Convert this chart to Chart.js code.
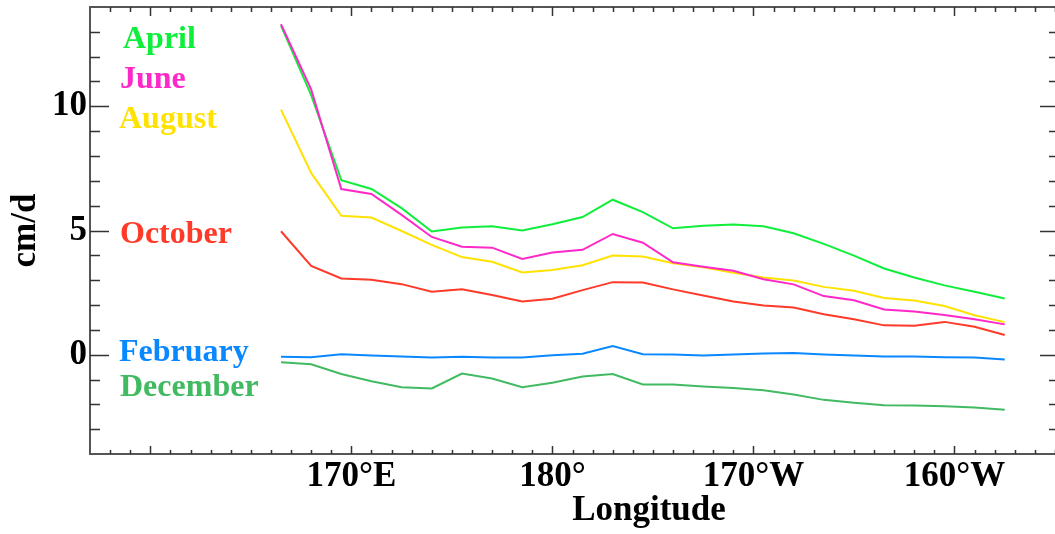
<!DOCTYPE html>
<html>
<head>
<meta charset="utf-8">
<script src="https://cdn.jsdelivr.net/npm/chart.js@4"></script>
<style>
  html,body{margin:0;padding:0;background:#fff;}
  #wrap{width:1055px;height:534px;}
</style>
</head>
<body>
<div id="wrap"><canvas id="chart" width="1055" height="534"></canvas></div>
<script>
// longitude in degrees east (190 = 170°W)
const lon = [166.5,168,169.5,171,172.5,174,175.5,177,178.5,180,181.5,183,184.5,
             186,187.5,189,190.5,192,193.5,195,196.5,198,199.5,201,202.5];

const april    = [13.25,10.45,7.03,6.67,5.90,4.96,5.12,5.17,5.00,5.25,5.54,6.24,5.74,
                  5.09,5.19,5.24,5.17,4.89,4.46,3.99,3.47,3.11,2.79,2.53,2.26];
const june     = [13.31,10.68,6.67,6.47,5.63,4.74,4.35,4.31,3.85,4.11,4.22,4.86,4.51,
                  3.72,3.54,3.38,3.04,2.83,2.36,2.19,1.82,1.74,1.60,1.43,1.22];
const august   = [9.87,7.32,5.59,5.52,4.98,4.42,3.93,3.74,3.31,3.41,3.60,3.99,3.95,
                  3.68,3.52,3.30,3.11,2.99,2.73,2.57,2.28,2.18,1.96,1.59,1.31];
const october  = [4.97,3.57,3.07,3.02,2.84,2.53,2.63,2.40,2.14,2.25,2.60,2.92,2.91,
                  2.63,2.38,2.14,1.98,1.90,1.63,1.43,1.18,1.16,1.32,1.12,0.79];
const february = [-0.08,-0.10,0.02,-0.03,-0.07,-0.11,-0.08,-0.11,-0.11,-0.02,0.04,0.35,0.02,
                  0.01,-0.03,0.01,0.05,0.07,0.01,-0.03,-0.07,-0.07,-0.10,-0.11,-0.19];
const december = [-0.31,-0.39,-0.78,-1.07,-1.31,-1.36,-0.76,-0.96,-1.31,-1.13,-0.88,-0.78,-1.20,
                  -1.20,-1.28,-1.34,-1.43,-1.60,-1.82,-1.94,-2.04,-2.05,-2.08,-2.13,-2.22];

const monthNames = ['April','June','August','October','February','December'];
const monthData  = [april, june, august, october, february, december];
const monthColors = ['#10ee3c','#ff28c8','#ffe200','#ff3a28','#0a88ff','#42ba62'];

const xTickVals = [170,180,190,200];
const xTickText = ['170°E','180°','170°W','160°W'];
const yTickVals = [0,5,10];

const SERIF = '"Liberation Serif","Times New Roman",serif';

// where the month names sit (pixels from the canvas corner)
const labelSpots = [[123,48],[120,88],[119,128],[120,243],[119,361],[120,396]];

const frame = {
  id:'frame',
  afterDraw(chart){
    const {ctx, chartArea:a, scales:{x,y}} = chart;
    ctx.save();
    // box: right edge falls off the canvas in the original, so only ticks show there
    ctx.strokeStyle = '#555';
    ctx.lineWidth = 2;
    ctx.beginPath();
    ctx.moveTo(a.right, a.top); ctx.lineTo(a.left, a.top);
    ctx.lineTo(a.left, a.bottom); ctx.lineTo(a.right, a.bottom);
    ctx.stroke();

    ctx.lineWidth = 1.5;
    ctx.strokeStyle = '#333';
    ctx.beginPath();
    for(let v=158; v<=205; v++){
      const px = Math.round(x.getPixelForValue(v))+0.5;
      const major = v%10===0;
      ctx.moveTo(px, a.bottom); ctx.lineTo(px, a.bottom-(major?8:4));
      ctx.moveTo(px, a.top); ctx.lineTo(px, a.top+(major?9:5));
    }
    for(let v=-3; v<=13; v++){
      const py = Math.round(y.getPixelForValue(v))+0.5;
      const major = v%5===0;
      ctx.moveTo(a.left, py); ctx.lineTo(a.left+(major?19:10), py);
      ctx.moveTo(a.right, py); ctx.lineTo(a.right-(major?15:6), py);
    }
    ctx.stroke();

    ctx.font = 'bold 32px '+SERIF;
    ctx.textBaseline = 'alphabetic';
    ctx.textAlign = 'left';
    monthNames.forEach((m,i)=>{
      ctx.fillStyle = monthColors[i];
      ctx.fillText(m, labelSpots[i][0], labelSpots[i][1]);
    });

    ctx.fillStyle = '#000';
    ctx.font = 'bold 35px '+SERIF;
    ctx.textAlign = 'center';
    ctx.fillText('Longitude', 649, 520);
    ctx.restore();
  }
};

new Chart(document.getElementById('chart'), {
  type:'line',
  data:{
    datasets: monthNames.map((m,i)=>({
      label:m,
      data: lon.map((lo,j)=>({x:lo, y:monthData[i][j]})),
      borderColor: monthColors[i],
      borderWidth: 2,
      pointRadius: 0,
      tension: 0,
      fill:false,
      order: m==='June' ? 0 : i+1
    }))
  },
  options:{
    responsive:false,
    animation:false,
    devicePixelRatio:1,
    layout:{ padding:{ top:7, right:-3, left:0, bottom:0 } },
    plugins:{ legend:{display:false}, tooltip:{enabled:false} },
    scales:{
      x:{
        type:'linear', min:157, max:205,
        grid:{ display:false, drawTicks:false },
        border:{ display:false },
        afterBuildTicks: s => { s.ticks = xTickVals.map(v=>({value:v})); },
        afterFit: s => { s.height = 80; s.paddingLeft = 0; s.paddingRight = 0; },
        ticks:{
          color:'#000', padding:2, maxRotation:0, autoSkip:false,
          font:{ family:SERIF, size:35, weight:'bold' },
          callback: v => xTickText[xTickVals.indexOf(v)]
        }
      },
      y:{
        type:'linear', min:-4, max:14,
        grid:{ display:false, drawTicks:false },
        border:{ display:false },
        afterBuildTicks: s => { s.ticks = yTickVals.map(v=>({value:v})); },
        afterFit: s => { s.width = 90; s.paddingTop = 0; s.paddingBottom = 0; },
        title:{
          display:true, text:'cm/d', color:'#000',
          font:{ family:SERIF, size:35, weight:'bold' },
          padding:{ top:5, bottom:0 }
        },
        ticks:{
          color:'#000', padding:3,
          font:{ family:SERIF, size:35, weight:'bold' }
        }
      }
    }
  },
  plugins:[frame]
});
</script>
</body>
</html>
